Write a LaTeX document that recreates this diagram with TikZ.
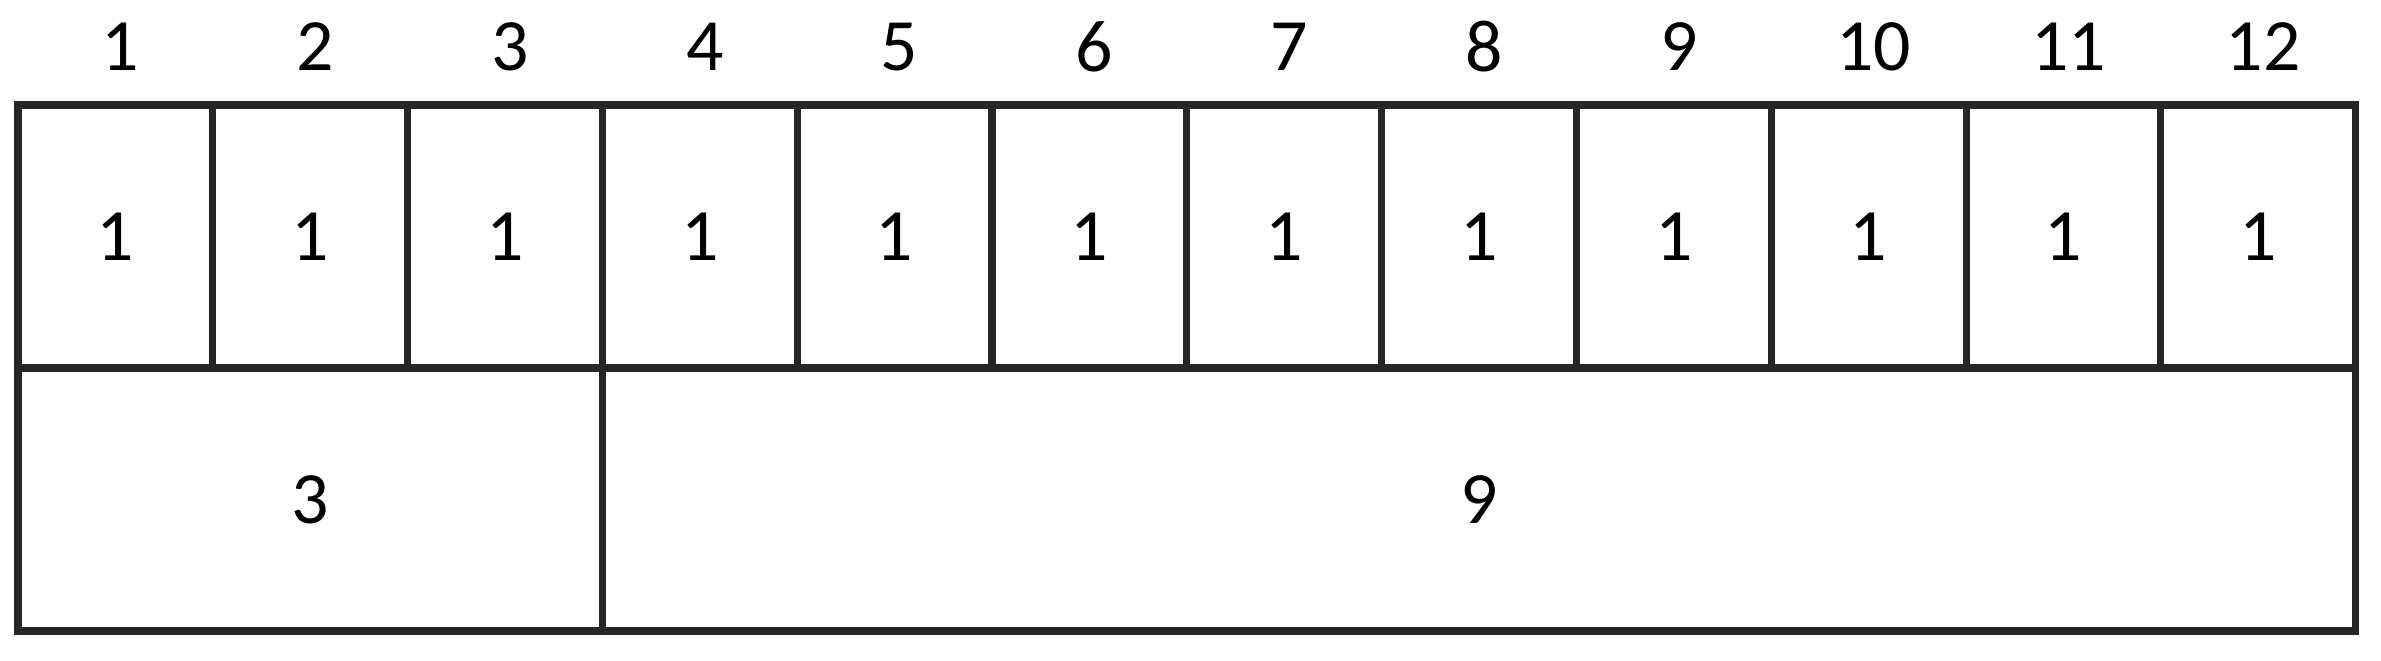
\documentclass[tikz,border=0pt]{standalone}
\usepackage{fontspec}
\setmainfont{Carlito}
\usetikzlibrary{positioning}
\tikzstyle{cell} =[draw=black!85, line width=2pt, outer sep=0pt, inner sep=0pt, minimum width=19.48mm, minimum height=26.3mm, font=\fontsize{21}{25}\selectfont]
\tikzstyle{colnum} =[xshift=0.5mm, yshift=5.8mm, font=\fontsize{21}{25}\selectfont]

\begin{document}
\begin{tikzpicture}
\useasboundingbox (0,0) rectangle (23.81,6.61);

\node (c1) [cell, anchor=north west] at (0.18,5.56) {1};
\node (c2) [cell, right=0pt of c1] {1};
\node (c3) [cell, right=0pt of c2] {1};
\node (c4) [cell, right=0pt of c3] {1};
\node (c5) [cell, right=0pt of c4] {1};
\node (c6) [cell, right=0pt of c5] {1};
\node (c7) [cell, right=0pt of c6] {1};
\node (c8) [cell, right=0pt of c7] {1};
\node (c9) [cell, right=0pt of c8] {1};
\node (c10) [cell, right=0pt of c9] {1};
\node (c11) [cell, right=0pt of c10] {1};
\node (c12) [cell, right=0pt of c11] {1};

%merged row
\node (sum3) [cell, minimum width=58.44mm, anchor=north west] at (c1.south west) {3};
\node (sum9) [cell, minimum width=175.32mm, right=0pt of sum3] {9};

%column numbers
\node (n1) [colnum] at (c1.north) {1};
\node (n2) [colnum] at (c2.north) {2};
\node (n3) [colnum] at (c3.north) {3};
\node (n4) [colnum] at (c4.north) {4};
\node (n5) [colnum] at (c5.north) {5};
\node (n6) [colnum] at (c6.north) {6};
\node (n7) [colnum] at (c7.north) {7};
\node (n8) [colnum] at (c8.north) {8};
\node (n9) [colnum] at (c9.north) {9};
\node (n10) [colnum] at (c10.north) {10};
\node (n11) [colnum] at (c11.north) {11};
\node (n12) [colnum] at (c12.north) {12};
\end{tikzpicture}
\end{document}
